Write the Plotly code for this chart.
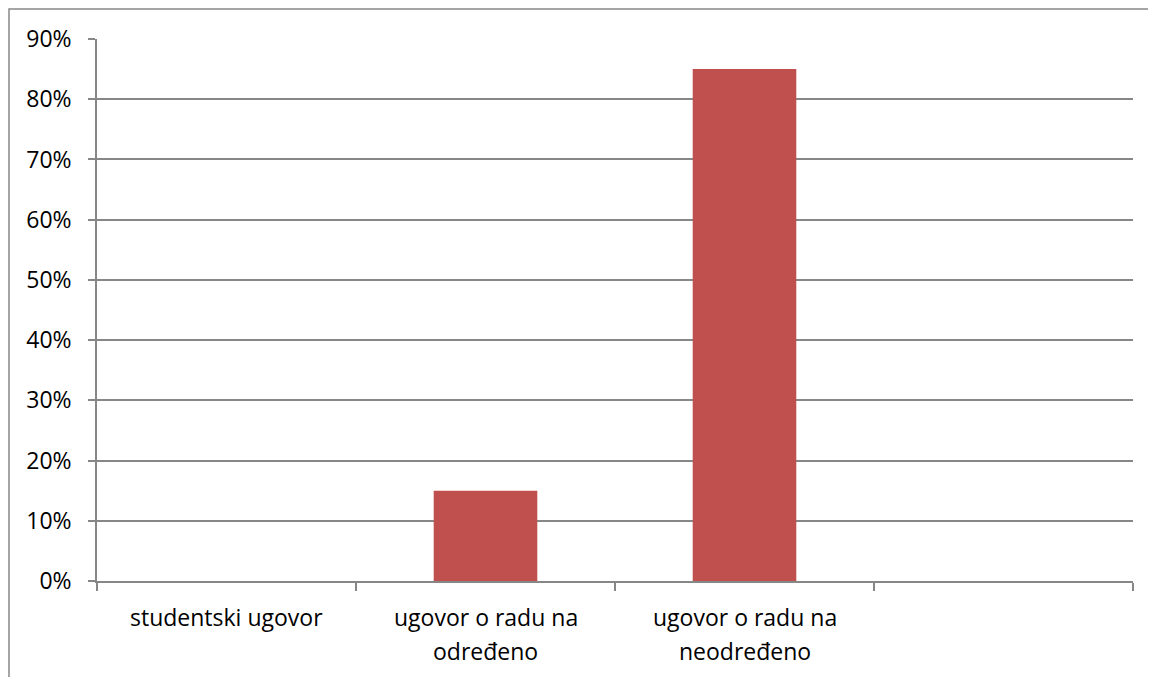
import plotly.graph_objects as go

categories = ["studentski ugovor", "ugovor o radu na<br>određeno", "ugovor o radu na<br>neodređeno", " "]
values = [0, 15, 85, None]
y_ticks = [0, 10, 20, 30, 40, 50, 60, 70, 80, 90]
y_tick_labels = [f"{v}%" for v in y_ticks]

fig = go.Figure()
fig.add_trace(go.Bar(x=categories, y=values, marker=dict(color="#C0504D", line=dict(width=0)),
                     width=0.4, showlegend=False))

grid = "#878787"
font = dict(family="Open Sans, sans-serif", size=23, color="#000000")

annotations = []
for cat in categories:
    for i, line in enumerate(cat.split("<br>")):
        if not line.strip():
            continue
        annotations.append(dict(x=cat, y=0, xref="x", yref="y", text=line, showarrow=False,
                                xanchor="center", yanchor="middle", yshift=-36 - 34 * i,
                                font=font))

fig.update_layout(
    width=1148, height=669,
    margin=dict(l=89, r=23, t=31, b=96),
    paper_bgcolor="white", plot_bgcolor="white",
    font=font,
    xaxis=dict(type="category", range=[-0.5, 3.5], tickson="boundaries",
               showgrid=False, showline=True, linecolor=grid, linewidth=1.5,
               ticks="outside", ticklen=8, tickcolor=grid, tickwidth=1.5,
               showticklabels=False, zeroline=False),
    yaxis=dict(range=[0, 90], tickmode="array", tickvals=y_ticks, ticktext=y_tick_labels,
               showgrid=True, gridcolor=grid, gridwidth=1.5,
               showline=True, linecolor=grid, linewidth=1.5,
               ticks="outside", ticklen=7, tickcolor=grid, tickwidth=1.5,
               ticklabelstandoff=12, zeroline=False),
    annotations=annotations,
    shapes=[dict(type="rect", xref="paper", yref="paper",
                 x0=-88/1036, x1=1.2, y0=-0.5, y1=1 + 30/542,
                 line=dict(color="#888888", width=1.5), fillcolor="rgba(0,0,0,0)", layer="below")],
)

fig.write_html("out.html")
